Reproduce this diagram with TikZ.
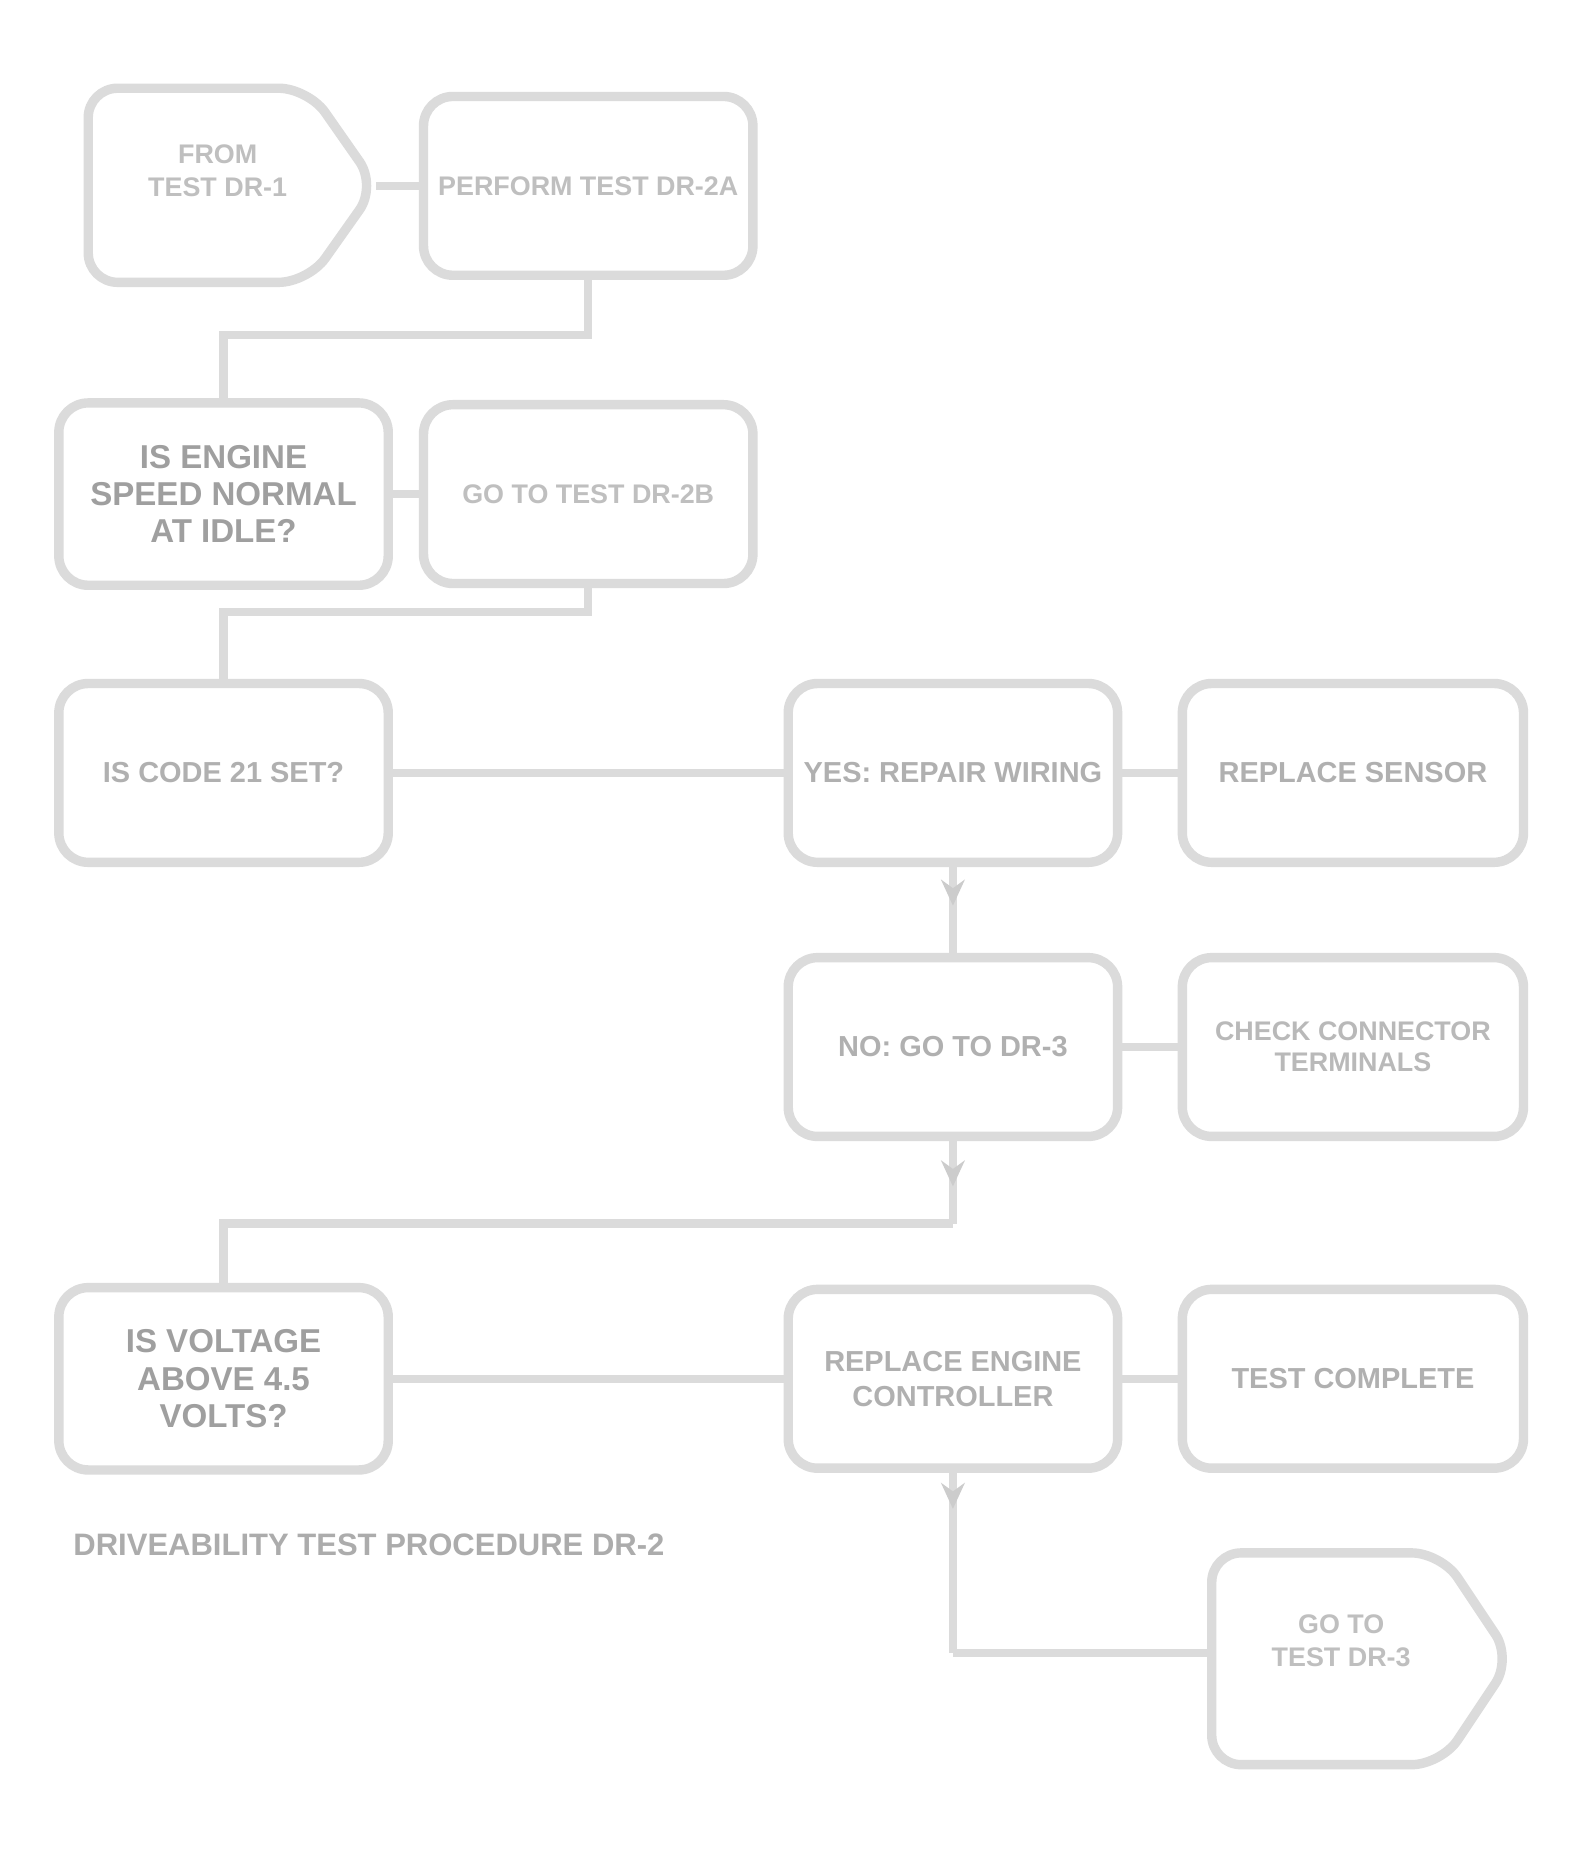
\documentclass[tikz,border=0pt]{standalone}
\usepackage{fontspec}
\setmainfont{Liberation Sans}
\usetikzlibrary{arrows.meta,decorations.markings}
\begin{document}
\begin{tikzpicture}[x=0.1mm,y=-0.1mm,
  box/.style={draw=gray!28, line width=0.8mm, rounded corners=2.5mm,
    minimum width=28mm, minimum height=15.2mm, align=center, inner sep=1pt,
    font=\fontsize{6.5}{8}\selectfont\bfseries, text=gray!50},
  widebox/.style={box, minimum width=29mm},
  heavy/.style={font=\fontsize{8}{9}\selectfont\bfseries, text=gray!75},
  mid/.style={font=\fontsize{7}{8.5}\selectfont\bfseries, text=gray!62},
  wire/.style={draw=gray!28, line width=0.7mm},
  midarrow/.style={postaction={decorate}, decoration={markings,
    mark=at position #1 with {\arrow[gray!40]{Stealth[length=2.2mm,width=2mm]}}}},
  shapeline/.style={draw=gray!28, line width=0.8mm, rounded corners=2.5mm},
  lbl/.style={font=\fontsize{6.5}{8}\selectfont\bfseries, text=gray!50, align=center}
]
\useasboundingbox (0,0) rectangle (1340,1587);
\fill[white] (0,0) rectangle (1340,1587);

% start arrow shape
\draw[shapeline] (75,75) -- (262,75) -- (320,158) -- (262,240) -- (75,240) -- cycle;
\node[lbl] (s) at (185,145) {FROM\\TEST DR-1};
\coordinate (stip) at (320,158);

% boxes
\node[box] (A) at (500,158) {PERFORM TEST DR-2A};
\node[box, heavy, minimum height=15.5mm] (B) at (190,420) {IS ENGINE\\SPEED NORMAL\\AT IDLE?};
\node[box] (C) at (500,420) {GO TO TEST DR-2B};
\node[box, mid] (D) at (190,657) {IS CODE 21 SET?};
\node[box, mid] (E) at (810,657) {YES: REPAIR WIRING};
\node[widebox, mid] (F) at (1150,657) {REPLACE SENSOR};
\node[box, mid] (G) at (810,890) {NO: GO TO DR-3};
\node[widebox, font=\fontsize{6.5}{7.5}\selectfont\bfseries, text=gray!55] (H) at (1150,890) {CHECK CONNECTOR\\TERMINALS};
\node[box, heavy, minimum height=15.5mm] (I) at (190,1172) {IS VOLTAGE\\ABOVE 4.5\\VOLTS?};
\node[box, mid] (J) at (810,1172) {REPLACE ENGINE\\CONTROLLER};
\node[widebox, mid] (K) at (1150,1172) {TEST COMPLETE};

% end arrow shape
\draw[shapeline] (1030,1320) -- (1225,1320) -- (1285,1410) -- (1225,1500) -- (1030,1500) -- cycle;
\node[lbl] (e) at (1140,1395) {GO TO\\TEST DR-3};
\coordinate (etail) at (1030,1405);

% caption
\node[anchor=west, font=\fontsize{7.5}{9}\selectfont\bfseries, text=gray!65] (cap) at (50,1313) {DRIVEABILITY TEST PROCEDURE DR-2};

% knee points
\coordinate (k1) at (190,285);
\coordinate (k2) at (190,520);
\coordinate (k3a) at (810,1040);
\coordinate (k3) at (190,1040);
\coordinate (k4) at (810,1405);

% connectors
\draw[wire] (stip) -- (A.west);
\draw[wire] (A.south) |- (k1) -- (B.north);
\draw[wire] (B.east) -- (C.west);
\draw[wire] (C.south) |- (k2) -- (D.north);
\draw[wire] (D.east) -- (E.west);
\draw[wire] (E.east) -- (F.west);
\draw[wire, midarrow=0.45] (E.south) -- (G.north);
\draw[wire] (G.east) -- (H.west);
\draw[wire, midarrow=0.55] (G.south) -- (k3a);
\draw[wire] (k3a) -- (k3) -- (I.north);
\draw[wire] (I.east) -- (J.west);
\draw[wire] (J.east) -- (K.west);
\draw[wire, midarrow=0.2] (J.south) -- (k4);
\draw[wire] (k4) -- (etail);
\end{tikzpicture}
\end{document}
